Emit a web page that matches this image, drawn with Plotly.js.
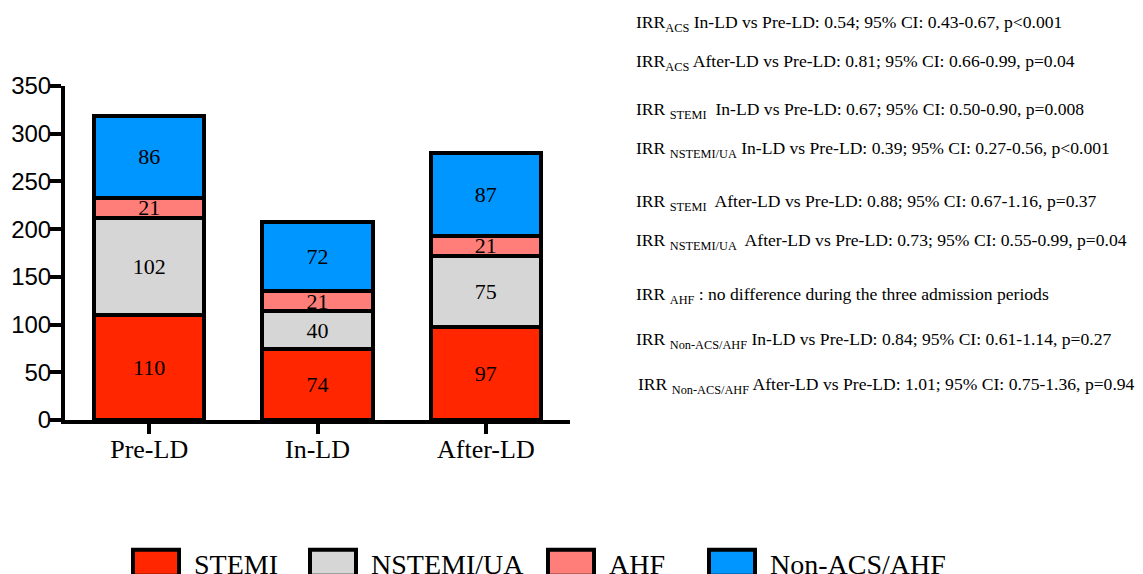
<!DOCTYPE html>
<html>
<head>
<meta charset="utf-8">
<script src="https://cdn.plot.ly/plotly-3.0.1.min.js"></script>
<style>
  html, body { margin: 0; padding: 0; background: #fff; }
  #chart { width: 1143px; height: 574px; }
</style>
</head>
<body>
<div id="chart"></div>
<script>
// ---- data ----
const periods = ["Pre-LD", "In-LD", "After-LD"];
const stemi = [110, 74, 97];
const nstemiUA = [102, 40, 75];
const ahf = [21, 21, 21];
const nonAcsAhf = [86, 72, 87];
const seriesNames = ["STEMI", "NSTEMI/UA", "AHF", "Non-ACS/AHF"];
const seriesColors = ["#FF2600", "#D6D6D6", "#FF7E79", "#0096FF"];
const yTicks = [0, 50, 100, 150, 200, 250, 300, 350];
const noteLines = [
  "IRR<sub>ACS</sub> In-LD vs Pre-LD: 0.54; 95% CI: 0.43-0.67, p&lt;0.001",
  "IRR<sub>ACS</sub> After-LD vs Pre-LD: 0.81; 95% CI: 0.66-0.99, p=0.04",
  "IRR <sub>STEMI</sub>  In-LD vs Pre-LD: 0.67; 95% CI: 0.50-0.90, p=0.008",
  "IRR <sub>NSTEMI/UA</sub> In-LD vs Pre-LD: 0.39; 95% CI: 0.27-0.56, p&lt;0.001",
  "IRR <sub>STEMI</sub>  After-LD vs Pre-LD: 0.88; 95% CI: 0.67-1.16, p=0.37",
  "IRR <sub>NSTEMI/UA</sub>  After-LD vs Pre-LD: 0.73; 95% CI: 0.55-0.99, p=0.04",
  "IRR <sub>AHF</sub> : no difference during the three admission periods",
  "IRR <sub>Non-ACS/AHF</sub> In-LD vs Pre-LD: 0.84; 95% CI: 0.61-1.14, p=0.27",
  "IRR <sub>Non-ACS/AHF</sub> After-LD vs Pre-LD: 1.01; 95% CI: 0.75-1.36, p=0.94"
];
// baseline pixel rows of the note lines (layout)
const noteBaselines = [27, 65, 113, 152, 205, 244, 298, 343, 388];
// legend entry text widths in px (layout)
const legendWidths = [96, 157, 80, 178];

// ---- layout constants ----
const L = 65, R = 573, T = 86, B = 154, W = 1143, H = 574;
const plotW = W - L - R, plotH = H - T - B;

const serif = "'Liberation Serif', 'Times New Roman', Times, serif";
const sans = "'Liberation Sans', Arial, Helvetica, sans-serif";

const allSeries = [stemi, nstemiUA, ahf, nonAcsAhf];
const traces = allSeries.map((vals, i) => ({
  type: "bar",
  name: seriesNames[i],
  x: periods,
  y: vals,
  width: 0.655,
  marker: { color: seriesColors[i], line: { color: "#000", width: 4 } },
  text: vals.map(String),
  texttemplate: "%{text}",
  textposition: "inside",
  insidetextanchor: "middle",
  textangle: 0,
  constraintext: "none",
  textfont: { family: serif, size: 22, color: "#000" },
  legendwidth: legendWidths[i],
  hoverinfo: "x+y+name"
}));

const annotations = noteLines.map((t, i) => ({
  xref: "paper", yref: "paper",
  x: ((i === 8 ? 636 : 634) - L) / plotW,
  y: (H - B - (noteBaselines[i] - 3)) / plotH,
  xanchor: "left", yanchor: "middle",
  text: t, showarrow: false,
  font: { family: serif, size: 17.6, color: "#000" },
  align: "left"
}));

const layout = {
  width: W, height: H,
  margin: { l: L, r: R, t: T, b: B, pad: 0, autoexpand: false },
  paper_bgcolor: "#fff", plot_bgcolor: "#fff",
  barmode: "stack",
  showlegend: true,
  legend: {
    orientation: "h",
    xref: "paper", yref: "paper",
    x: (953 - L) / plotW, xanchor: "right",
    y: (H - B - 563) / plotH, yanchor: "middle",
    itemwidth: 66,
    traceorder: "normal",
    font: { family: serif, size: 28, color: "#000" },
    bgcolor: "rgba(0,0,0,0)"
  },
  xaxis: {
    type: "category",
    range: [-0.5, 2.5],
    showline: true, linecolor: "#000", linewidth: 4,
    ticks: "outside", ticklen: 10, tickwidth: 4, tickcolor: "#000",
    ticklabelstandoff: -7,
    showgrid: false, zeroline: false,
    tickfont: { family: serif, size: 26, color: "#000" },
    fixedrange: true
  },
  yaxis: {
    range: [0, 350],
    tickvals: yTicks,
    ticktext: yTicks.map(String),
    showline: true, linecolor: "#000", linewidth: 4,
    ticks: "outside", ticklen: 11, tickwidth: 4, tickcolor: "#000",
    ticklabelstandoff: -6,
    showgrid: false, zeroline: false,
    tickfont: { family: sans, size: 24, color: "#000" },
    fixedrange: true
  },
  uniformtext: { mode: "show", minsize: 22 },
  annotations: annotations
};

Plotly.newPlot("chart", traces, layout, { displayModeBar: false, staticPlot: true }).then(gd => {
  // enlarge legend swatches to match the reference's wide boxes
  gd.querySelectorAll(".legend .legendpoints path").forEach(p => {
    p.setAttribute("d", "M23,13H-23V-13H23Z");
    p.style.strokeWidth = "4px";
    p.style.stroke = "#000";
  });
});
</script>
</body>
</html>
